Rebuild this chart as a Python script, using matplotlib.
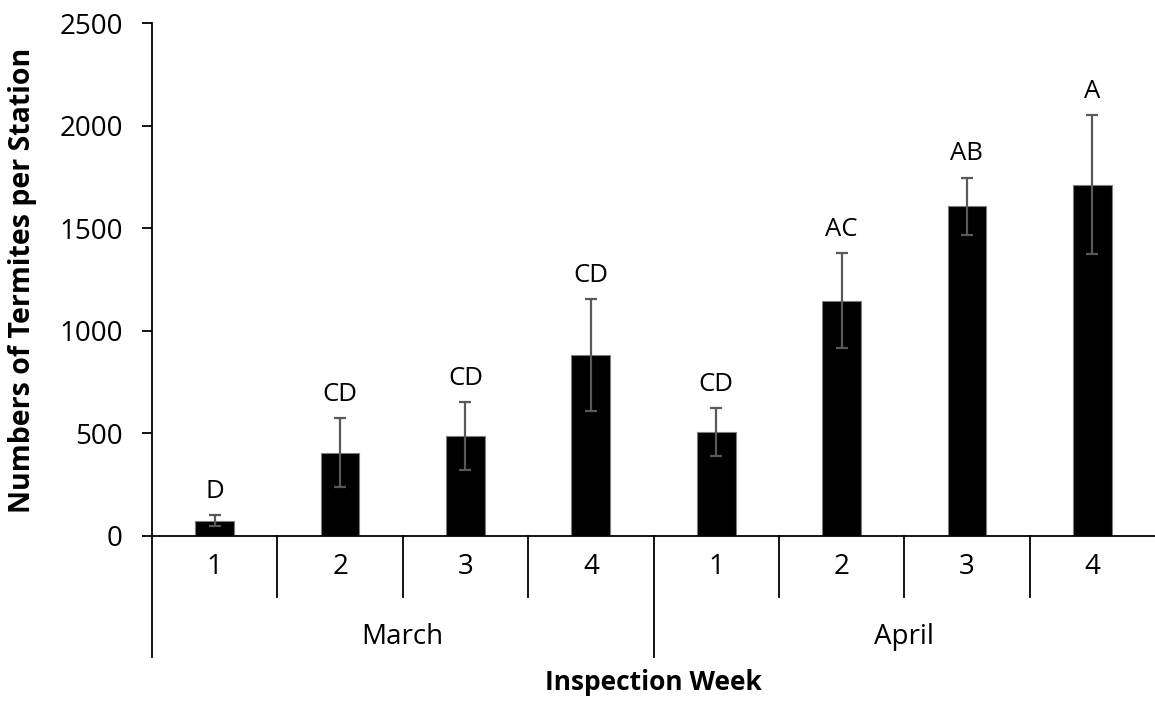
import matplotlib
matplotlib.use("Agg")
import matplotlib.pyplot as plt
import numpy as np

# termite counts per station, by inspection week
months = ["March", "April"]
weeks = ["1", "2", "3", "4", "1", "2", "3", "4"]
means = [75, 406, 487, 882, 506, 1146, 1606, 1712]
errors = [27, 167, 165, 272, 117, 232, 140, 340]
letters = ["D", "CD", "CD", "CD", "CD", "AC", "AB", "A"]

plt.rcParams["font.family"] = ["Open Sans", "DejaVu Sans"]

fig = plt.figure(figsize=(11.55, 7.02), dpi=100)
ax = fig.add_axes([152 / 1155, 1 - 536 / 702, 1 - 152 / 1155, 513 / 702])

x = np.arange(len(means))
ax.bar(x, means, width=0.31, color="black", edgecolor="#7f7f7f", linewidth=0.8, zorder=2)
ax.errorbar(x, means, yerr=errors, fmt="none", ecolor="#595959", elinewidth=1.6,
            capsize=4.2, capthick=1.6, zorder=3)

# significance letters above the error bars
for xi, m, e, lab in zip(x, means, errors, letters):
    ax.text(xi, m + e + 55, lab, ha="center", va="bottom", fontsize=18.5)

ax.set_xlim(-0.5, len(means) - 0.5)
ax.set_ylim(0, 2500)
ax.set_yticks(np.arange(0, 2501, 500))
ax.tick_params(axis="y", direction="out", length=7, width=1.3, labelsize=20, pad=14)
ax.tick_params(axis="x", bottom=False, labelbottom=False)

for side in ["top", "right"]:
    ax.spines[side].set_visible(False)
ax.spines["left"].set_linewidth(1.3)
ax.spines["bottom"].set_linewidth(1.3)

# two-level category axis drawn below the plot
trans = ax.get_xaxis_transform()
week_depth = -61 / 513
month_depth = -121 / 513
for b in range(1, len(weeks)):
    depth = month_depth if b % 4 == 0 else week_depth
    ax.plot([b - 0.5, b - 0.5], [0, depth], color="black", lw=1.3,
            transform=trans, clip_on=False)
ax.plot([-0.5, -0.5], [0, month_depth], color="black", lw=1.3,
        transform=trans, clip_on=False)

for xi, w in zip(x, weeks):
    ax.text(xi, -31 / 513, w, ha="center", va="center", fontsize=20, transform=trans)
for i, m in enumerate(months):
    ax.text(i * 4 + 1.5, -101 / 513, m, ha="center", va="center", fontsize=20,
            transform=trans)

ax.text(3.5, -147 / 513, "Inspection Week", ha="center", va="center", fontsize=19,
        fontweight="bold", transform=trans)
fig.text(23 / 1155, 1 - 280 / 702, "Numbers of Termites per Station", rotation=90,
         ha="center", va="center", fontsize=20.5, fontweight="bold")

fig.savefig("out.png", dpi=100)
